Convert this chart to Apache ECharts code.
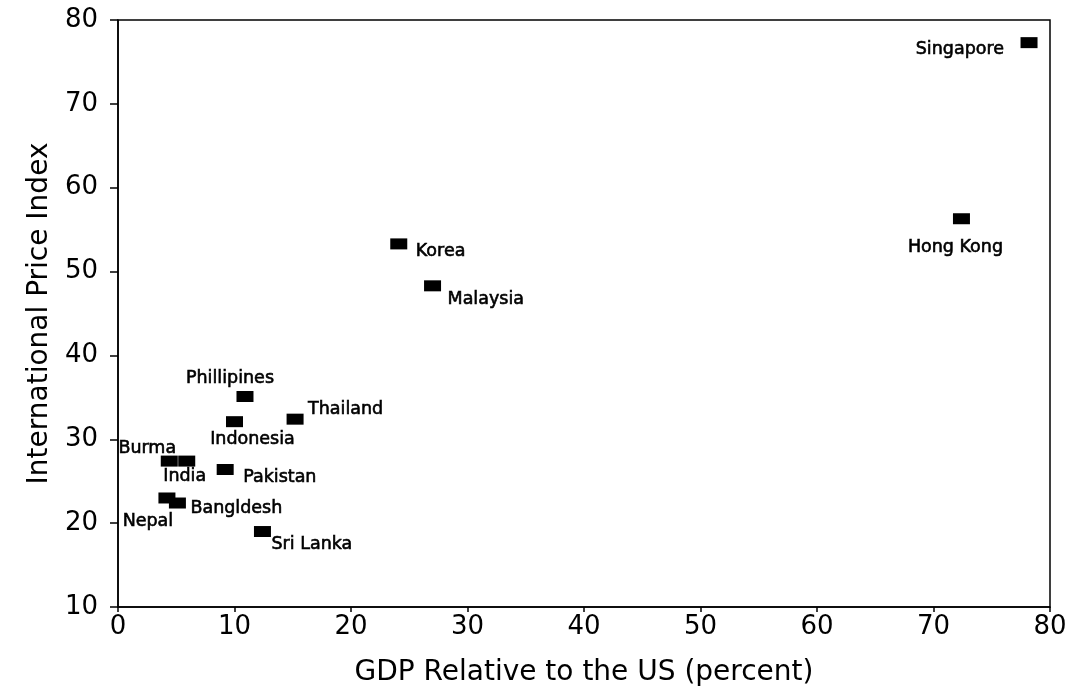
<!DOCTYPE html>
<html>
<head>
<meta charset="utf-8">
<script src="https://cdn.jsdelivr.net/npm/echarts@6/dist/echarts.min.js"></script>
<style>html,body{margin:0;padding:0;background:#fff;}#c{width:1086px;height:695px;}</style>
</head>
<body>
<div id="c"></div>
<script>
// Data
var countries = ['Singapore','Hong Kong','Korea','Malaysia','Phillipines','Indonesia','Thailand','Burma','India','Pakistan','Nepal','Bangldesh','Sri Lanka'];
var gdpRelUS = [78.2, 72.4, 24.1, 27.0, 10.9, 10.0, 15.2, 4.4, 5.9, 9.2, 4.2, 5.1, 12.4];
var priceIndex = [77.3, 56.3, 53.3, 48.3, 35.1, 32.1, 32.4, 27.4, 27.4, 26.4, 23.0, 22.4, 19.0];
var xTicks = [0, 10, 20, 30, 40, 50, 60, 70, 80];
var yTicks = [10, 20, 30, 40, 50, 60, 70, 80];

// Label placement (style only)
var labelPlace = {
  'Singapore':   {align:'right',  offset:[-25, 7]},
  'Hong Kong':   {align:'center', offset:[-6, 29]},
  'Korea':       {align:'left',   offset:[17, 8]},
  'Malaysia':    {align:'left',   offset:[15, 14]},
  'Phillipines': {align:'center', offset:[-15, -18]},
  'Indonesia':   {align:'center', offset:[18, 18]},
  'Thailand':    {align:'left',   offset:[13, -10]},
  'Burma':       {align:'center', offset:[-22, -13]},
  'India':       {align:'center', offset:[-2, 15]},
  'Pakistan':    {align:'left',   offset:[18, 8]},
  'Nepal':       {align:'center', offset:[-19, 23]},
  'Bangldesh':   {align:'left',   offset:[13, 5]},
  'Sri Lanka':   {align:'left',   offset:[9, 13]}
};

var pts = countries.map(function(n, i){
  var p = labelPlace[n];
  return {
    name: n,
    value: [gdpRelUS[i], priceIndex[i]],
    label: {show:true, position:'inside', align:p.align, verticalAlign:'middle', offset:p.offset}
  };
});

var font = 'DejaVu Sans';
var chart = echarts.init(document.getElementById('c'));
chart.setOption({
  backgroundColor:'#fff',
  animation:false,
  grid:{left:118, right:36, top:20, bottom:88, show:true, borderColor:'#000', borderWidth:1.5, backgroundColor:'transparent'},
  xAxis:{
    type:'value', min:xTicks[0], max:xTicks[xTicks.length-1], interval:10,
    name:'GDP Relative to the US (percent)', nameLocation:'middle', nameGap:52,
    nameTextStyle:{fontFamily:font, fontSize:28, color:'#000'},
    axisLine:{show:true, lineStyle:{color:'#000', width:1.5}},
    axisTick:{show:true, inside:false, length:5, lineStyle:{color:'#000', width:1.5}},
    axisLabel:{fontFamily:font, fontSize:26, color:'#000', margin:7},
    splitLine:{show:false}
  },
  yAxis:{
    type:'value', min:yTicks[0], max:yTicks[yTicks.length-1], interval:10,
    name:'International Price Index', nameLocation:'middle', nameGap:64,
    nameTextStyle:{fontFamily:font, fontSize:28, color:'#000'},
    axisLine:{show:true, lineStyle:{color:'#000', width:1.5}},
    axisTick:{show:true, inside:false, length:8, lineStyle:{color:'#000', width:1.5}},
    axisLabel:{fontFamily:font, fontSize:26, color:'#000', margin:20},
    splitLine:{show:false}
  },
  series:[{
    type:'scatter',
    symbol:'rect',
    symbolSize:[17,11],
    itemStyle:{color:'#000', opacity:1},
    label:{fontFamily:font, fontSize:17.5, color:'#000', textBorderColor:'#000', textBorderWidth:0.6, formatter:'{b}'},
    data: pts
  }]
});
</script>
</body>
</html>
